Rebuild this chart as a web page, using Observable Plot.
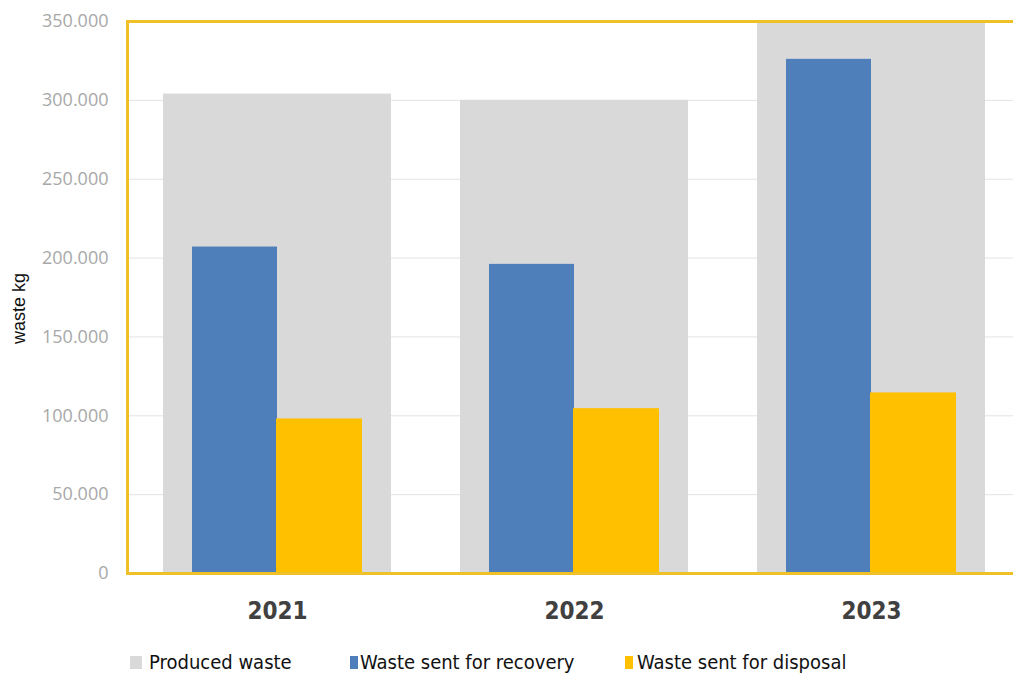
<!DOCTYPE html>
<html>
<head>
<meta charset="utf-8">
<script src="https://cdn.jsdelivr.net/npm/d3@7"></script>
<script src="https://cdn.jsdelivr.net/npm/@observablehq/plot@0.6"></script>
<style>
  html, body { margin: 0; padding: 0; background: #fff; overflow: hidden; }
  #wrap { position: relative; width: 1013px; height: 675px; }
  #legend { position: absolute; top: 650px; left: 0; width: 1013px; height: 25px;
    font-family: "DejaVu Sans Condensed", "DejaVu Sans", sans-serif; font-stretch: condensed; font-size: 20px; color: #111; }
  .item { position: absolute; top: 0; display: flex; align-items: center; white-space: nowrap; }
  .sw { display: inline-block; width: 8px; height: 13px; margin-right: 2px; }
  text.ylab { font-size: 18px !important; font-family: "Liberation Sans", sans-serif !important; fill: #111 !important; }
</style>
</head>
<body>
<div id="wrap"></div>
<script>
const years = ["2021", "2022", "2023"];
const produced = [304000, 300000, 349000];
const recovery = [207000, 196000, 326000];
const disposal = [98000, 104500, 114500];
const yTicks = [0, 50000, 100000, 150000, 200000, 250000, 300000, 350000];
const seriesNames = ["Produced waste", "Waste sent for recovery", "Waste sent for disposal"];
const seriesColors = ["#d9d9d9", "#4f7fba", "#ffc000"];

const prodData = years.map((y, i) => ({year: y, value: produced[i]}));
const recData = years.map((y, i) => ({year: y, value: recovery[i]}));
const disData = years.map((y, i) => ({year: y, value: disposal[i]}));

const fmt = d3.formatLocale({decimal: ",", thousands: ".", grouping: [3], currency: ["", ""]}).format(",d");

const chart = Plot.plot({
  width: 1013,
  height: 645,
  marginLeft: 127,
  marginRight: -8,
  marginTop: 21,
  marginBottom: 72,
  style: {background: "#fff", overflow: "hidden"},
  x: {domain: years, paddingInner: 0.232, paddingOuter: 0.121, label: null},
  y: {domain: [0, 350000], label: null},
  marks: [
    Plot.gridY(yTicks, {stroke: "#e3e3e3", strokeOpacity: 1, strokeWidth: 1}),
    Plot.barY(prodData, {x: "year", y: "value", fill: seriesColors[0]}),
    Plot.barY(recData, {x: "year", y: "value", fill: seriesColors[1], insetLeft: 29, insetRight: 114}),
    Plot.barY(disData, {x: "year", y: "value", fill: seriesColors[2], insetLeft: 113, insetRight: 29}),
    Plot.axisY({ticks: yTicks, tickFormat: fmt, tickSize: 0, tickPadding: 19,
      fontSize: 18, fontFamily: "Open Sans", fill: "#a8a8a8",
      label: "waste kg", labelAnchor: "center", labelOffset: 115}),
    Plot.axisX({tickSize: 0, tickPadding: 28, fontSize: 24, fontWeight: "bold",
      fontFamily: "DejaVu Sans Condensed, DejaVu Sans, sans-serif", fill: "#404040", label: null}),
    Plot.frame({stroke: "#f0c028", strokeWidth: 3})
  ]
});
document.getElementById("wrap").appendChild(chart);

// style the y axis label
chart.querySelectorAll("text").forEach(t => {
  if (t.textContent.startsWith("waste kg")) {
    t.textContent = "waste kg";
    t.setAttribute("class", "ylab");
    t.setAttribute("dx", "-11");
  }
});

const legend = document.createElement("div");
legend.id = "legend";
const lefts = [130, 350, 625];
seriesNames.forEach((n, i) => {
  const it = document.createElement("div");
  it.className = "item";
  it.style.left = lefts[i] + "px";
  const sw = document.createElement("span");
  sw.className = "sw";
  sw.style.background = seriesColors[i];
  if (i === 0) { sw.style.width = "12px"; sw.style.marginRight = "7px"; }
  if (i === 2) { sw.style.marginRight = "4px"; }
  const tx = document.createElement("span");
  tx.textContent = n;
  it.appendChild(sw); it.appendChild(tx);
  legend.appendChild(it);
});
document.getElementById("wrap").appendChild(legend);
</script>
</body>
</html>
